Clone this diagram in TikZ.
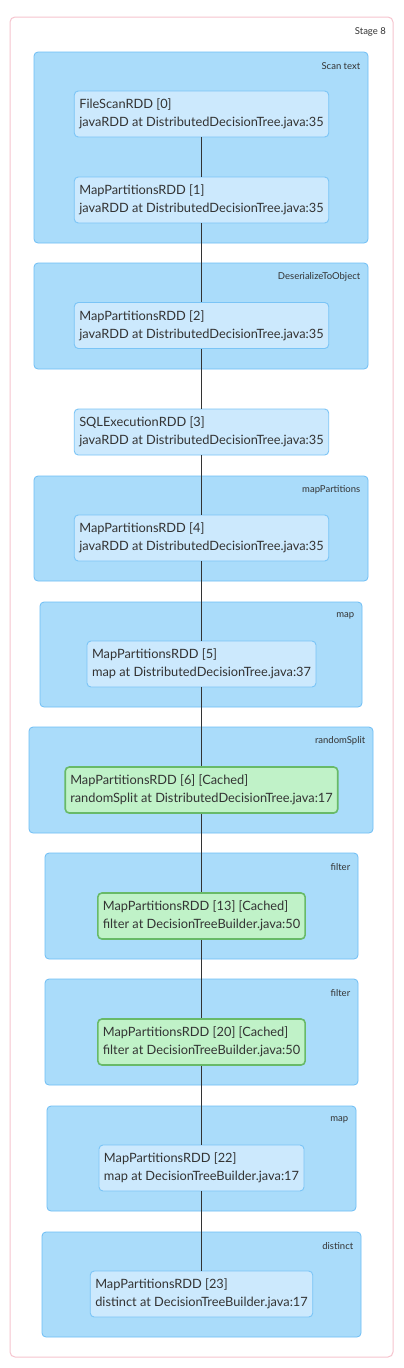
\documentclass[tikz,border=0pt]{standalone}
\usepackage{fontspec}
\setmainfont{Lato}
\usepackage{tikz}
\usetikzlibrary{positioning}

\definecolor{stageline}{RGB}{246,196,206}
\definecolor{clusterfill}{RGB}{170,220,250}
\definecolor{clusterline}{RGB}{110,190,245}
\definecolor{rddfill}{RGB}{204,233,253}
\definecolor{rddline}{RGB}{122,196,246}
\definecolor{cachefill}{RGB}{192,242,200}
\definecolor{cacheline}{RGB}{104,186,104}
\definecolor{txt}{RGB}{51,51,51}

\begin{document}
\begin{tikzpicture}[x=1pt, y=-1pt,
  stage/.style  ={rectangle, draw=stageline, rounded corners=5pt,
                  line width=1pt, inner sep=0pt},
  cluster/.style={rectangle, draw=clusterline, fill=clusterfill,
                  rounded corners=4pt, line width=0.8pt, inner sep=0pt},
  clabel/.style ={font=\fontsize{9.5}{11}\selectfont, text=txt,
                  inner sep=0pt, anchor=east},
  rdd/.style    ={rectangle, draw=rddline, fill=rddfill,
                  rounded corners=4pt, line width=0.9pt, align=left,
                  inner xsep=5pt, inner ysep=0pt, minimum height=46pt,
                  font=\fontsize{12.8}{18}\selectfont, text=txt},
  cached/.style ={rdd, draw=cacheline, fill=cachefill, line width=1.6pt},
  flow/.style   ={draw=txt, line width=1.2pt},
]
\fill[white] (0,0) rectangle (404,1368);
\useasboundingbox (0,0) rectangle (404,1368);

% === Stage frame ===
\node[stage, minimum width=383pt, minimum height=1340pt] (stg) at (201.5,687) {};
\node[clabel] (stglbl) at (386,32) {Stage 8};

% === Clusters ===
\node[cluster, minimum width=334pt, minimum height=191pt] (scan) at (201,147.5) {};
\node[clabel] at ([xshift=-8pt,yshift=-14pt]scan.north east) {Scan text};

\node[cluster, minimum width=334pt, minimum height=106pt] (deser) at (201,316) {};
\node[clabel] at ([xshift=-8pt,yshift=-14pt]deser.north east) {DeserializeToObject};

\node[cluster, minimum width=334pt, minimum height=105pt] (mappart) at (201,528.5) {};
\node[clabel] at ([xshift=-8pt,yshift=-14pt]mappart.north east) {mapPartitions};

\node[cluster, minimum width=322pt, minimum height=105pt] (mapa) at (201,654.5) {};
\node[clabel] at ([xshift=-8pt,yshift=-14pt]mapa.north east) {map};

\node[cluster, minimum width=344pt, minimum height=106pt] (rsplit) at (201,780) {};
\node[clabel] at ([xshift=-8pt,yshift=-14pt]rsplit.north east) {randomSplit};

\node[cluster, minimum width=313pt, minimum height=106pt] (filtera) at (201.5,906) {};
\node[clabel] at ([xshift=-8pt,yshift=-14pt]filtera.north east) {filter};

\node[cluster, minimum width=313pt, minimum height=106pt] (filterb) at (201.5,1032) {};
\node[clabel] at ([xshift=-8pt,yshift=-14pt]filterb.north east) {filter};

\node[cluster, minimum width=309pt, minimum height=105pt] (mapb) at (201.5,1158.5) {};
\node[clabel] at ([xshift=-8pt,yshift=-14pt]mapb.north east) {map};

\node[cluster, minimum width=319pt, minimum height=105pt] (dist) at (201.5,1284.5) {};
\node[clabel] at ([xshift=-8pt,yshift=-14pt]dist.north east) {distinct};

% === RDDs ===
\node[rdd] (r0) at (201.5,114)
  {FileScanRDD [0]\\javaRDD at DistributedDecisionTree.java:35};
\node[rdd] (r1) at (201.5,200)
  {MapPartitionsRDD [1]\\javaRDD at DistributedDecisionTree.java:35};
\node[rdd] (r2) at (201.5,325.5)
  {MapPartitionsRDD [2]\\javaRDD at DistributedDecisionTree.java:35};
\node[rdd] (r3) at (201.5,432)
  {SQLExecutionRDD [3]\\javaRDD at DistributedDecisionTree.java:35};
\node[rdd] (r4) at (201.5,538)
  {MapPartitionsRDD [4]\\javaRDD at DistributedDecisionTree.java:35};
\node[rdd] (r5) at (201.5,664)
  {MapPartitionsRDD [5]\\map at DistributedDecisionTree.java:37};
\node[cached] (r6) at (201.5,790)
  {MapPartitionsRDD [6] [Cached]\\randomSplit at DistributedDecisionTree.java:17};
\node[cached] (r13) at (201.5,916)
  {MapPartitionsRDD [13] [Cached]\\filter at DecisionTreeBuilder.java:50};
\node[cached] (r20) at (201.5,1042)
  {MapPartitionsRDD [20] [Cached]\\filter at DecisionTreeBuilder.java:50};
\node[rdd] (r22) at (201.5,1168)
  {MapPartitionsRDD [22]\\map at DecisionTreeBuilder.java:17};
\node[rdd] (r23) at (201.5,1294)
  {MapPartitionsRDD [23]\\distinct at DecisionTreeBuilder.java:17};

% === Dependencies ===
\draw[flow] (r0) -- (r1);
\draw[flow] (r1) -- (r2);
\draw[flow] (r2) -- (r3);
\draw[flow] (r3) -- (r4);
\draw[flow] (r4) -- (r5);
\draw[flow] (r5) -- (r6);
\draw[flow] (r6) -- (r13);
\draw[flow] (r13) -- (r20);
\draw[flow] (r20) -- (r22);
\draw[flow] (r22) -- (r23);

\end{tikzpicture}
\end{document}
